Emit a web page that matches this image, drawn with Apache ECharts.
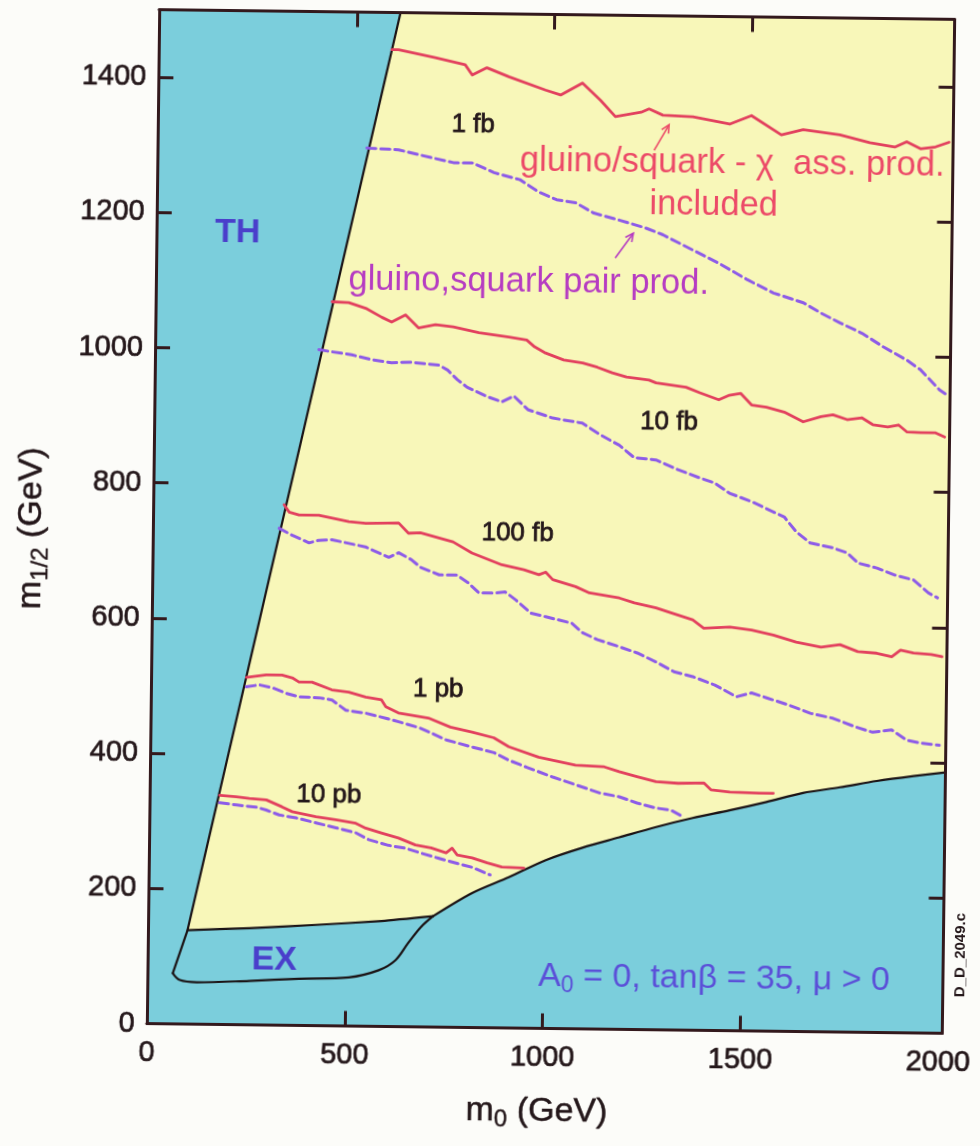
<!DOCTYPE html>
<html>
<head>
<meta charset="utf-8">
<script src="https://cdn.jsdelivr.net/npm/echarts@6/dist/echarts.min.js"></script>
<style>
  html, body { margin: 0; padding: 0; background: #fcfcf9; }
  #chart { width: 980px; height: 1146px; transform: rotate(0.7deg); transform-origin: 553px 521.5px; }
</style>
</head>
<body>
<div id="chart"></div>
<script>
// ---- axes ----
const X_MAX = 2010;
const Y_MAX = 1500;
const xLabelValues = [0, 500, 1000, 1500, 2000];
const yLabelValues = [0, 200, 400, 600, 800, 1000, 1200, 1400];
const xTickValues = [500, 1000, 1500];
const yTickValues = [200, 400, 600, 800, 1000, 1200, 1400];

// ---- excluded regions (m0, m1/2 in GeV) ----
const thEdge = [[64, 75], [100, 139], [610, 1500]];
const exTop = [[100, 139], [256, 143], [424, 149], [590, 156], [720, 164]];
const exBottom = [[64, 75], [82, 65], [125, 62], [258, 65], [383, 69], [509, 72], [584, 83],
  [626, 98], [658, 124], [690, 148], [720, 164]];
const lepEdge = [[720, 164], [818, 199], [910, 223], [1003, 249], [1095, 268], [1188, 284],
  [1281, 300], [1373, 314], [1466, 326], [1559, 339], [1651, 353], [1744, 362], [1837, 372],
  [1930, 380], [2010, 386]];

// ---- cross-section contours: solid = with gluino/squark-chi associated production ----
const assoc1fb = [[589,1445],[606,1445],[699,1434],[775,1424],[793,1409],[830,1420],[886,1407],
  [979,1388],[1017,1381],[1072,1399],[1118,1374],[1156,1350],[1221,1357],[1241,1362],[1276,1353],
  [1352,1351],[1445,1341],[1500,1354],[1576,1326],[1631,1334],[1724,1327],[1800,1316],[1863,1310],
  [1893,1318],[1928,1308],[1966,1311],[2000,1318]];
const assoc10fb = [[446,1071],[488,1070],[531,1062],[572,1049],[597,1042],[632,1053],[665,1034],
  [708,1039],[753,1036],[818,1028],[894,1022],[939,1018],[959,1008],[987,999],[1033,989],[1081,985],
  [1118,979],[1156,971],[1192,965],[1249,961],[1267,957],[1343,951],[1378,943],[1426,933],[1453,940],
  [1481,943],[1509,926],[1547,923],[1592,916],[1640,902],[1685,910],[1715,913],[1751,906],[1788,909],
  [1816,899],[1854,896],[1881,899],[1902,889],[1937,888],[1975,888],[1998,882]];
const assoc100fb = [[331,770],[344,759],[369,755],[419,755],[495,746],[538,744],[621,745],[646,730],
  [676,731],[759,718],[807,702],[883,685],[939,678],[977,671],[994,675],[1012,664],[1070,654],
  [1105,645],[1181,638],[1219,631],[1274,624],[1312,617],[1367,607],[1395,595],[1461,597],[1516,593],
  [1571,586],[1629,576],[1692,569],[1740,573],[1785,563],[1833,561],[1871,556],[1893,566],[1926,562],
  [1971,560],[1998,557]];
const assoc1pb = [[241,514],[291,518],[331,518],[357,514],[374,508],[407,508],[457,497],[500,494],
  [543,487],[583,483],[594,473],[626,464],[702,457],[758,444],[813,437],[868,429],[906,416],[982,401],
  [1075,390],[1148,388],[1186,381],[1231,374],[1279,367],[1335,365],[1400,366],[1418,356],[1466,353],
  [1541,352],[1576,352]];
const assoc10pb = [[177,339],[219,337],[252,335],[295,333],[335,323],[361,316],[421,309],[471,305],
  [522,300],[547,293],[587,286],[630,279],[673,269],[713,265],[751,258],[766,265],[779,255],[817,251],
  [855,244],[892,238],[948,237]];

// ---- dashed = gluino, squark pair production only ----
const pair1fb = [[529,1299],[609,1297],[692,1286],[748,1279],[796,1279],[851,1265],[917,1255],
  [965,1237],[1010,1226],[1058,1222],[1104,1207],[1169,1197],[1235,1186],[1280,1176],[1356,1154],
  [1422,1135],[1495,1111],[1561,1092],[1637,1078],[1682,1063],[1730,1049],[1786,1034],[1841,1014],
  [1900,995],[1935,981],[1983,952],[1998,946]];
const pair10fb = [[414,1000],[447,997],[497,993],[548,986],[598,982],[648,983],[719,979],[740,972],
  [765,958],[790,947],[843,933],[878,926],[908,935],[944,915],[1007,903],[1082,896],[1128,879],[1176,864],
  [1214,846],[1269,843],[1325,829],[1381,817],[1418,810],[1456,795],[1512,783],[1568,768],[1595,761],
  [1626,739],[1661,723],[1719,716],[1755,709],[1783,694],[1831,687],[1876,677],[1924,670],[1962,651],
  [1985,644]];
const pair100fb = [[319,735],[352,725],[395,714],[420,718],[453,719],[538,709],[597,694],[622,701],
  [654,691],[677,680],[725,669],[770,669],[798,658],[826,643],[864,643],[892,645],[920,633],[958,614],
  [995,609],[1061,600],[1089,586],[1127,576],[1182,566],[1228,557],[1276,544],[1321,530],[1369,523],
  [1425,511],[1480,494],[1518,500],[1556,493],[1611,483],[1667,471],[1724,464],[1780,452],[1825,444],
  [1873,448],[1911,433],[1946,429],[1994,426]];
const pair1pb = [[241,500],[274,503],[307,499],[342,491],[375,486],[425,485],[458,482],[493,467],
  [544,463],[594,456],[627,451],[682,442],[748,425],[813,415],[869,407],[907,396],[952,386],[1018,372],
  [1076,361],[1139,349],[1187,344],[1232,335],[1280,328],[1318,325],[1351,315]];
const pair10pb = [[177,328],[220,325],[270,322],[295,318],[328,311],[371,307],[421,300],[472,293],
  [522,286],[555,276],[605,268],[648,264],[688,257],[731,250],[769,244],[817,237],[863,226]];

// ---- annotations: [text, m0, m1/2] ----
const contourLabels = [['1 fb', 797, 1335], ['10 fb', 1301, 899], ['100 fb', 922, 732],
  ['1 pb', 726, 499], ['10 pb', 453, 341]];
const regionLabels = [['TH', 205, 1171], ['EX', 320, 96]];
const assocNote = [['gluino/squark - \u03c7  ass. prod.', 1453, 1283], ['included', 1407, 1221]];
const pairNote = [['gluino,squark pair prod.', 942, 1104]];
const paramNote = [1432, 77];
const plotId = ['D_D_2049.c', 2055, 116];
const assocArrow = [[1255, 1301], [1292, 1339]];
const pairArrow = [[1160, 1141], [1205, 1178]];

// ---- colours ----
const BLUE = '#7bcedc';
const YELLOW = '#f8f7b9';
const FRAME = '#33191d';
const EDGE = '#1b1315';
const RED = '#e2405e';
const VIOLET = '#8d5be8';
const RED_TEXT = '#ec4a68';
const MAGENTA = '#b63cc2';
const REGION_TEXT = '#4a3fcb';
const PARAM_TEXT = '#5b50d8';
const DARK = '#24171a';
const FONT = "'Liberation Sans', Arial, Helvetica, sans-serif";

// allowed (non-excluded) region: TH edge up, along the top, down the right side, back along LEP and EX edges
const allowedRegion = thEdge.slice(1)
  .concat([[X_MAX, Y_MAX], [X_MAX, lepEdge[lepEdge.length - 1][1]]])
  .concat(lepEdge.slice().reverse())
  .concat(exTop.slice(0, -1).reverse());

function lineSeries(data, color, width, dash, smooth) {
  return {
    type: 'line', data: data, showSymbol: false, symbol: 'none', smooth: smooth || false,
    silent: true, z: 3, clip: true,
    lineStyle: { color: color, width: width, type: dash || 'solid', cap: 'round', join: 'round' }
  };
}

function textSeries(items, style, z) {
  return {
    type: 'custom', coordinateSystem: 'cartesian2d', silent: true, clip: false, z: z || 6,
    data: items.map((d, i) => i),
    renderItem: function (params, api) {
      const d = items[params.dataIndex];
      const p = api.coord([d[1], d[2]]);
      return {
        type: 'text', x: p[0], y: p[1], rotation: style.rotation || 0,
        style: Object.assign({
          text: d[0], textAlign: 'center', textVerticalAlign: 'middle',
          align: 'center', verticalAlign: 'middle'
        }, style.text)
      };
    }
  };
}

function arrowSeries(arrow, color) {
  return {
    type: 'custom', coordinateSystem: 'cartesian2d', silent: true, z: 6, data: [0],
    renderItem: function (params, api) {
      const a = api.coord(arrow[0]);
      const b = api.coord(arrow[1]);
      const ang = Math.atan2(b[1] - a[1], b[0] - a[0]);
      const L = 9, W = 0.45;
      const h1 = [b[0] - L * Math.cos(ang - W), b[1] - L * Math.sin(ang - W)];
      const h2 = [b[0] - L * Math.cos(ang + W), b[1] - L * Math.sin(ang + W)];
      return {
        type: 'group', children: [
          { type: 'line', shape: { x1: a[0], y1: a[1], x2: b[0], y2: b[1] },
            style: { stroke: color, lineWidth: 1.6 } },
          { type: 'polyline', shape: { points: [h1, b, h2] },
            style: { stroke: color, fill: null, lineWidth: 1.6 } }
        ]
      };
    }
  };
}

const frameLine = { show: true, onZero: false, lineStyle: { color: FRAME, width: 3 } };
const tickStyle = { color: FRAME, width: 3 };
const tickLabel = {
  color: DARK, fontSize: 29, fontFamily: FONT,
  textBorderColor: DARK, textBorderWidth: 0.7,
  formatter: v => String(v)
};
const titleRich = {
  m: { fontSize: 34, fontFamily: FONT, color: DARK, lineHeight: 42, verticalAlign: 'middle',
       textBorderColor: DARK, textBorderWidth: 0.5 },
  s: { fontSize: 24, fontFamily: FONT, color: DARK, verticalAlign: 'bottom',
       textBorderColor: DARK, textBorderWidth: 0.4 }
};

const option = {
  animation: false,
  backgroundColor: 'transparent',
  grid: { left: 153, right: 27, top: 14.5, bottom: 117.5, show: true, backgroundColor: BLUE, borderWidth: 0 },
  xAxis: [
    {
      type: 'value', min: 0, max: X_MAX, position: 'bottom', z: 8,
      axisLine: frameLine, splitLine: { show: false },
      axisTick: { show: true, inside: true, length: 15, customValues: xTickValues, lineStyle: tickStyle },
      axisLabel: Object.assign({ customValues: xLabelValues, margin: 15 }, tickLabel),
      name: '{m|m}{s|0}{m| (GeV)}', nameLocation: 'middle', nameGap: 62,
      nameTextStyle: { rich: titleRich, padding: [0, 14, 0, 0] }
    },
    {
      type: 'value', min: 0, max: X_MAX, position: 'top', z: 8,
      axisLine: frameLine, splitLine: { show: false },
      axisTick: { show: true, inside: true, length: 15, customValues: xTickValues, lineStyle: tickStyle },
      axisLabel: { show: false }
    }
  ],
  yAxis: [
    {
      type: 'value', min: 0, max: Y_MAX, position: 'left', z: 8,
      axisLine: frameLine, splitLine: { show: false },
      axisTick: { show: true, inside: true, length: 15, customValues: yTickValues, lineStyle: tickStyle },
      axisLabel: Object.assign({ customValues: yLabelValues, margin: 12 }, tickLabel),
      name: '{m|m}{s|1/2}{m| (GeV)}', nameLocation: 'middle', nameGap: 100, nameRotate: 90,
      nameTextStyle: { rich: titleRich, padding: [0, 26, 0, 0] }
    },
    {
      type: 'value', min: 0, max: Y_MAX, position: 'right', z: 8,
      axisLine: frameLine, splitLine: { show: false },
      axisTick: { show: true, inside: true, length: 15, customValues: yTickValues, lineStyle: tickStyle },
      axisLabel: { show: false }
    }
  ],
  series: [
    {
      type: 'custom', coordinateSystem: 'cartesian2d', silent: true, z: 1, data: [0],
      renderItem: function (params, api) {
        return {
          type: 'polygon',
          shape: { points: allowedRegion.map(p => api.coord(p)) },
          style: { fill: YELLOW }
        };
      }
    },
    lineSeries(thEdge, EDGE, 2.2),
    lineSeries(exTop, EDGE, 2.2, 'solid', 0.2),
    lineSeries(exBottom, EDGE, 2.2, 'solid', 0.35),
    lineSeries(lepEdge, EDGE, 2.2, 'solid', 0.3),

    lineSeries(pair1fb, VIOLET, 3, [9, 5]),
    lineSeries(pair10fb, VIOLET, 3, [9, 5]),
    lineSeries(pair100fb, VIOLET, 3, [9, 5]),
    lineSeries(pair1pb, VIOLET, 3, [9, 5]),
    lineSeries(pair10pb, VIOLET, 3, [9, 5]),

    lineSeries(assoc1fb, RED, 2.8),
    lineSeries(assoc10fb, RED, 2.8),
    lineSeries(assoc100fb, RED, 2.8),
    lineSeries(assoc1pb, RED, 2.8),
    lineSeries(assoc10pb, RED, 2.8),

    textSeries(contourLabels, { text: { fill: DARK, fontSize: 26, fontFamily: FONT, stroke: DARK, lineWidth: 0.8 } }),
    textSeries(regionLabels, { text: { fill: REGION_TEXT, fontSize: 34, fontWeight: 'bold', fontFamily: FONT } }),
    textSeries(assocNote, { text: { fill: RED_TEXT, fontSize: 34.5, fontFamily: FONT } }),
    textSeries(pairNote, { text: { fill: MAGENTA, fontSize: 34.5, fontFamily: FONT } }),
    textSeries([['{n|A}{s|0}{n| = 0, tan\u03b2 = 35, \u03bc > 0}', paramNote[0], paramNote[1]]], {
      text: {
        rich: {
          n: { fontSize: 34, fontFamily: FONT, fill: PARAM_TEXT, color: PARAM_TEXT, lineHeight: 42, verticalAlign: 'middle' },
          s: { fontSize: 23, fontFamily: FONT, fill: PARAM_TEXT, color: PARAM_TEXT, verticalAlign: 'bottom' }
        }
      }
    }),
    textSeries([plotId], { rotation: Math.PI / 2, text: { fill: DARK, fontSize: 15, fontWeight: 'bold', fontFamily: FONT } }),
    arrowSeries(assocArrow, RED_TEXT),
    arrowSeries(pairArrow, MAGENTA)
  ]
};

const chart = echarts.init(document.getElementById('chart'), null, { renderer: 'canvas' });
chart.setOption(option);
</script>
</body>
</html>
